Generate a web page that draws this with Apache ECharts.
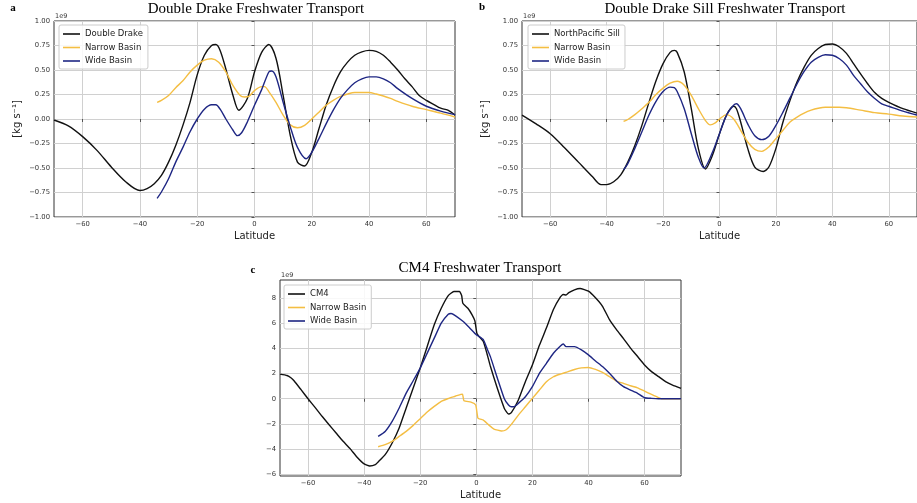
<!DOCTYPE html>
<html><head><meta charset="utf-8">
<script src="https://cdn.jsdelivr.net/npm/echarts@6/dist/echarts.min.js"></script>
<style>html,body{margin:0;padding:0;background:#fff;}#c{width:917px;height:503px;}</style>
</head><body><div id="c"></div>
<script>
// ---------- DATA (values in units of 1e9 kg/s) ----------
const xTicks = [-60, -40, -20, 0, 20, 40, 60];
const yTicksAB = [-1, -0.75, -0.5, -0.25, 0, 0.25, 0.5, 0.75, 1];
const yTicksC = [-6, -4, -2, 0, 2, 4, 6, 8];

const titleA = "Double Drake Freshwater Transport";
const titleB = "Double Drake Sill Freshwater Transport";
const titleC = "CM4 Freshwater Transport";

// Panel a
const aDoubleLat = [-70,-65,-60,-55,-50,-45,-40,-37.5,-35,-32.5,-30,-27.5,-25,-22.5,-20,-17.5,-15,-13.5,-12,-10,-7.5,-5.5,-2.5,0,2.5,5,7.5,10,12.5,15,17.5,20,22.5,25,27.5,30,32.5,35,37.5,40,42.5,45,47.5,50,52.5,55,57.5,60,62.5,65,67.5,70];
const aDouble = [-0.01,-0.07,-0.18,-0.32,-0.49,-0.64,-0.73,-0.71,-0.66,-0.575,-0.44,-0.27,-0.065,0.17,0.45,0.65,0.75,0.76,0.70,0.51,0.24,0.09,0.21,0.48,0.68,0.76,0.62,0.24,-0.17,-0.44,-0.48,-0.34,-0.10,0.14,0.33,0.48,0.58,0.65,0.685,0.70,0.69,0.65,0.58,0.50,0.41,0.33,0.24,0.19,0.15,0.11,0.09,0.04];
const aNarrowLat = [-34,-32.5,-30,-27.5,-25,-22.5,-20,-17.5,-15,-12.5,-10,-7.5,-5,-3.5,-2,0,2.5,3.5,5,7.5,10,12.5,15,17.5,20,22.5,25,27.5,30,32.5,35,37.5,40,42.5,45,47.5,50,55,60,65,70];
const aNarrow = [0.17,0.19,0.24,0.32,0.39,0.48,0.55,0.60,0.615,0.58,0.48,0.34,0.24,0.225,0.23,0.29,0.33,0.33,0.28,0.17,0.04,-0.06,-0.09,-0.065,0.0,0.07,0.14,0.19,0.23,0.255,0.27,0.27,0.27,0.255,0.235,0.21,0.18,0.13,0.095,0.06,0.02];
const aWideLat = [-34,-32.5,-30,-27.5,-25,-22.5,-20,-17.5,-15,-13.5,-12,-10,-7.5,-6,-4.5,-2.5,0,2.5,5,6,7.5,10,12.5,15,18,20,22.5,25,27.5,30,32.5,35,37.5,40,42.5,45,47.5,50,55,60,65,70];
const aWide = [-0.81,-0.745,-0.61,-0.44,-0.29,-0.13,0.0,0.10,0.145,0.145,0.10,0.0,-0.115,-0.17,-0.14,-0.03,0.14,0.30,0.48,0.49,0.43,0.17,-0.08,-0.29,-0.405,-0.34,-0.2,-0.05,0.09,0.21,0.30,0.37,0.41,0.43,0.43,0.41,0.37,0.31,0.21,0.13,0.08,0.045];

// Panel b
const bSillLat = [-70,-65,-60,-55,-50,-45,-42,-40,-37.5,-35,-32.5,-30,-27.5,-25,-22.5,-20,-17.5,-16,-15,-12.5,-10,-7.5,-5,-2.5,0,2.5,5,6,7.5,10,12.5,15.5,17.5,20,22.5,25,27.5,30,32.5,35,37.5,40,42.5,45,47.5,50,52.5,55,57.5,60,65,70];
const bSill = [0.04,-0.05,-0.15,-0.29,-0.44,-0.59,-0.67,-0.67,-0.64,-0.57,-0.44,-0.27,-0.065,0.17,0.39,0.565,0.68,0.70,0.68,0.48,0.105,-0.30,-0.51,-0.37,-0.15,0.04,0.13,0.105,-0.03,-0.30,-0.49,-0.535,-0.49,-0.30,-0.03,0.19,0.38,0.53,0.65,0.72,0.76,0.765,0.735,0.67,0.565,0.46,0.36,0.27,0.21,0.17,0.105,0.06];
const bNarrowLat = [-34,-32.5,-30,-27.5,-25,-22.5,-20,-17.5,-15,-12.5,-10,-7.5,-5,-3.3,-1.5,0,2.5,5,7.5,10,12.5,15,17.5,20,22.5,25,27.5,30,32.5,35,37.5,40,42.5,45,50,55,60,65,70];
const bNarrow = [-0.025,-0.005,0.045,0.105,0.17,0.25,0.315,0.365,0.385,0.345,0.24,0.105,-0.015,-0.06,-0.04,0.0,0.045,0.0,-0.115,-0.235,-0.31,-0.33,-0.285,-0.20,-0.115,-0.03,0.02,0.06,0.09,0.11,0.12,0.12,0.12,0.115,0.09,0.065,0.05,0.03,0.02];
const bWideLat = [-34,-32.5,-30,-27.5,-25,-22.5,-20,-17.5,-16,-15,-12.5,-10,-7.5,-5.5,-2.5,0,2.5,5,6,7.5,10,12.5,15,17.5,20,22.5,25,27.5,30,32.5,35,37.5,40,42.5,45,47.5,50,52.5,55,57.5,60,65,70];
const bWide = [-0.52,-0.455,-0.30,-0.13,0.04,0.18,0.28,0.325,0.32,0.28,0.105,-0.15,-0.39,-0.50,-0.34,-0.15,0.04,0.14,0.155,0.105,-0.05,-0.17,-0.21,-0.175,-0.065,0.07,0.215,0.36,0.485,0.58,0.63,0.655,0.65,0.615,0.55,0.445,0.36,0.275,0.21,0.155,0.13,0.08,0.04];

// Panel c
const cCM4Lat = [-70,-67.5,-66,-65,-62.5,-60,-57.5,-55,-52.5,-50,-47.5,-45,-42.5,-40,-38,-36,-35,-32.5,-30,-27.5,-25,-22.5,-20,-17.5,-15,-12.5,-10,-8,-6,-5.2,-4.8,-3,-1.5,-0.5,0.2,1,2.5,3.8,5,7.5,10,11.5,12.5,15,17.5,20,22.5,25,27.5,30,31,32,33,35,37,40,42.5,45,47.5,50,52.5,55,57.5,60,62.5,65,67.5,70,73];
const cCM4 = [1.96,1.85,1.65,1.43,0.72,0.0,-0.69,-1.40,-2.07,-2.73,-3.39,-3.97,-4.66,-5.19,-5.35,-5.25,-5.03,-4.45,-3.52,-2.33,-0.74,0.85,2.44,4.16,5.88,7.2,8.21,8.53,8.53,8.2,7.6,7.2,6.68,6.2,5.2,4.95,4.55,3.6,2.6,0.83,-0.77,-1.22,-1.11,-0.1,1.36,2.69,4.25,5.63,7.1,8.1,8.3,8.26,8.45,8.67,8.77,8.56,8.03,7.36,6.3,5.5,4.78,4.03,3.36,2.69,2.16,1.76,1.36,1.09,0.83];
const cNarrowLat = [-35,-32.5,-30,-27.5,-25,-22.5,-20,-17.5,-15,-12.5,-10,-7.5,-5.5,-4.9,-4.4,-1.9,-0.2,0.6,2.5,4.5,6.3,9,10.5,12.5,15,17.5,20,22.5,25,27.5,29.5,30,32.5,35,37.5,40,42.5,45,47.5,50,52.5,55,57.5,60,62.5,65,66,73];
const cNarrow = [-3.82,-3.66,-3.39,-3.0,-2.6,-2.12,-1.59,-1.06,-0.61,-0.21,0.02,0.2,0.35,0.36,-0.16,-0.27,-0.5,-1.55,-1.7,-2.1,-2.41,-2.57,-2.49,-2.04,-1.3,-0.64,0.03,0.69,1.35,1.75,1.93,1.96,2.14,2.33,2.46,2.49,2.33,2.09,1.75,1.41,1.22,1.03,0.87,0.61,0.34,0.08,0.0,0.0];
const cWideLat = [-35,-32.5,-30,-27.5,-25,-22.5,-20,-17.5,-15,-12.5,-10,-9,-7.5,-5,-2.5,0,1,2.5,4,5,7.5,10,11.5,12.5,13.5,15,17.5,20,22.5,25,27.5,30,31,32,35,37.5,40,42.5,45,47.5,50,52.5,55,57.5,60,62.5,65,73];
const cWide = [-2.99,-2.6,-1.8,-0.74,0.45,1.43,2.44,3.63,4.82,6.01,6.73,6.78,6.62,6.2,5.67,5.09,4.95,4.7,3.9,3.37,1.65,0.0,-0.5,-0.64,-0.64,-0.37,0.16,0.96,2.02,2.82,3.62,4.2,4.36,4.15,4.15,3.89,3.49,3.01,2.56,2.02,1.41,0.96,0.69,0.43,0.08,0.03,0.0,0.0];

// ---------- CHART ----------
const BLACK = '#111111', YELLOW = '#F4BE43', BLUE = '#1E2683';
const zip = (xs, ys) => xs.map((x, i) => [x, ys[i]]);
const minus = s => s.replace('-', '\u2212');
const fmtX = v => minus(String(v));
const fmt2 = v => minus(v.toFixed(2));
const fmt0 = v => minus(String(v));
const FONT = 'DejaVu Sans';

const grids = [
  {left: 54, top: 21, width: 401, height: 196},
  {left: 522, top: 21, width: 400, height: 196},
  {left: 280, top: 280, width: 401, height: 196}
];
const xRanges = [[-70, 70], [-70, 70], [-70, 73]];
const yRanges = [[-1, 1], [-1, 1], [-6.15, 9.45]];
const yTicks = [yTicksAB, yTicksAB, yTicksC];
const yFmts = [fmt2, fmt2, fmt0];

function xAxis(i) {
  return {
    type: 'value', gridIndex: i, min: xRanges[i][0], max: xRanges[i][1],
    name: 'Latitude', nameLocation: 'middle', nameGap: 14,
    nameTextStyle: {fontFamily: FONT, fontSize: 10, color: '#222'},
    axisLine: {show: false},
    axisTick: {show: true, customValues: xTicks, length: 3, inside: false, lineStyle: {color: '#333', width: 0.8}},
    axisLabel: {customValues: xTicks, formatter: fmtX, fontFamily: FONT, fontSize: 6.8, color: '#333', margin: 4},
    splitLine: {show: true, lineStyle: {color: '#d0d0d0', width: 1}}
  };
}
function yAxis(i) {
  return {
    type: 'value', gridIndex: i, min: yRanges[i][0], max: yRanges[i][1],
    name: i < 2 ? '[kg s\u207B\u00B9]' : '', nameLocation: 'middle', nameGap: 32, nameRotate: 90,
    nameTextStyle: {fontFamily: FONT, fontSize: 10, color: '#222'},
    axisLine: {show: false},
    axisTick: {show: true, customValues: yTicks[i], length: 3, lineStyle: {color: '#333', width: 0.8}},
    axisLabel: {customValues: yTicks[i], formatter: yFmts[i], fontFamily: FONT, fontSize: 6.8, color: '#333', margin: 4},
    splitLine: {show: true, lineStyle: {color: '#d0d0d0', width: 1}}
  };
}
function line(name, color, data, i, smooth) {
  return {
    type: 'line', name, data, xAxisIndex: i, yAxisIndex: i,
    symbol: 'none', showSymbol: false, smooth: smooth, z: 3,
    lineStyle: {color, width: 1.4}, itemStyle: {color}
  };
}
function legend(left, top, names) {
  return {
    orient: 'vertical', left, top, data: names,
    icon: 'rect', itemWidth: 17, itemHeight: 1.6, itemGap: 3.5,
    padding: [4, 5, 3, 4],
    backgroundColor: 'rgba(255,255,255,0.85)', borderColor: '#cccccc', borderWidth: 1, borderRadius: 2,
    textStyle: {fontFamily: FONT, fontSize: 8.5, color: '#222', lineHeight: 10},
    selectedMode: false
  };
}
const text = (x, y, t, style) => ({type: 'text', x, y, z: 10, style: Object.assign({text: t}, style)});
const titleStyle = {fontFamily: 'Liberation Serif', fontSize: 15, fill: '#000', textAlign: 'center', textVerticalAlign: 'middle'};
const letterStyle = {fontFamily: 'Liberation Serif', fontSize: 11, fontWeight: 'bold', fill: '#000', textAlign: 'center', textVerticalAlign: 'middle'};
const expStyle = {fontFamily: FONT, fontSize: 6.5, fill: '#333', textAlign: 'left', textVerticalAlign: 'bottom'};

const chart = echarts.init(document.getElementById('c'), null, {renderer: 'canvas'});
chart.setOption({
  animation: false,
  backgroundColor: '#fff',
  grid: grids.map(g => Object.assign({show: true, borderColor: '#333', borderWidth: 1, backgroundColor: 'transparent', containLabel: false}, g)),
  xAxis: [0, 1, 2].map(xAxis),
  yAxis: [0, 1, 2].map(yAxis),
  legend: [
    legend(59, 25, ['Double Drake', 'Narrow Basin', 'Wide Basin']),
    legend(528, 25, ['NorthPacific Sill', 'Narrow Basin', 'Wide Basin']),
    legend(284, 285, ['CM4', 'Narrow Basin', 'Wide Basin'])
  ],
  series: [
    line('Double Drake', BLACK, zip(aDoubleLat, aDouble), 0, 0.3),
    line('Narrow Basin', YELLOW, zip(aNarrowLat, aNarrow), 0, 0.3),
    line('Wide Basin', BLUE, zip(aWideLat, aWide), 0, 0.3),
    line('NorthPacific Sill', BLACK, zip(bSillLat, bSill), 1, 0.3),
    line('Narrow Basin', YELLOW, zip(bNarrowLat, bNarrow), 1, 0.3),
    line('Wide Basin', BLUE, zip(bWideLat, bWide), 1, 0.3),
    line('CM4', BLACK, zip(cCM4Lat, cCM4), 2, 0.15),
    line('Narrow Basin', YELLOW, zip(cNarrowLat, cNarrow), 2, 0.15),
    line('Wide Basin', BLUE, zip(cWideLat, cWide), 2, 0.15)
  ],
  graphic: [
    text(256, 9, titleA, titleStyle),
    text(725, 9, titleB, titleStyle),
    text(480, 268, titleC, titleStyle),
    text(13, 8, 'a', letterStyle),
    text(482, 7, 'b', letterStyle),
    text(253, 270, 'c', letterStyle),
    text(55, 20, '1e9', expStyle),
    text(523, 20, '1e9', expStyle),
    text(281, 279, '1e9', expStyle)
  ]
});
</script></body></html>
